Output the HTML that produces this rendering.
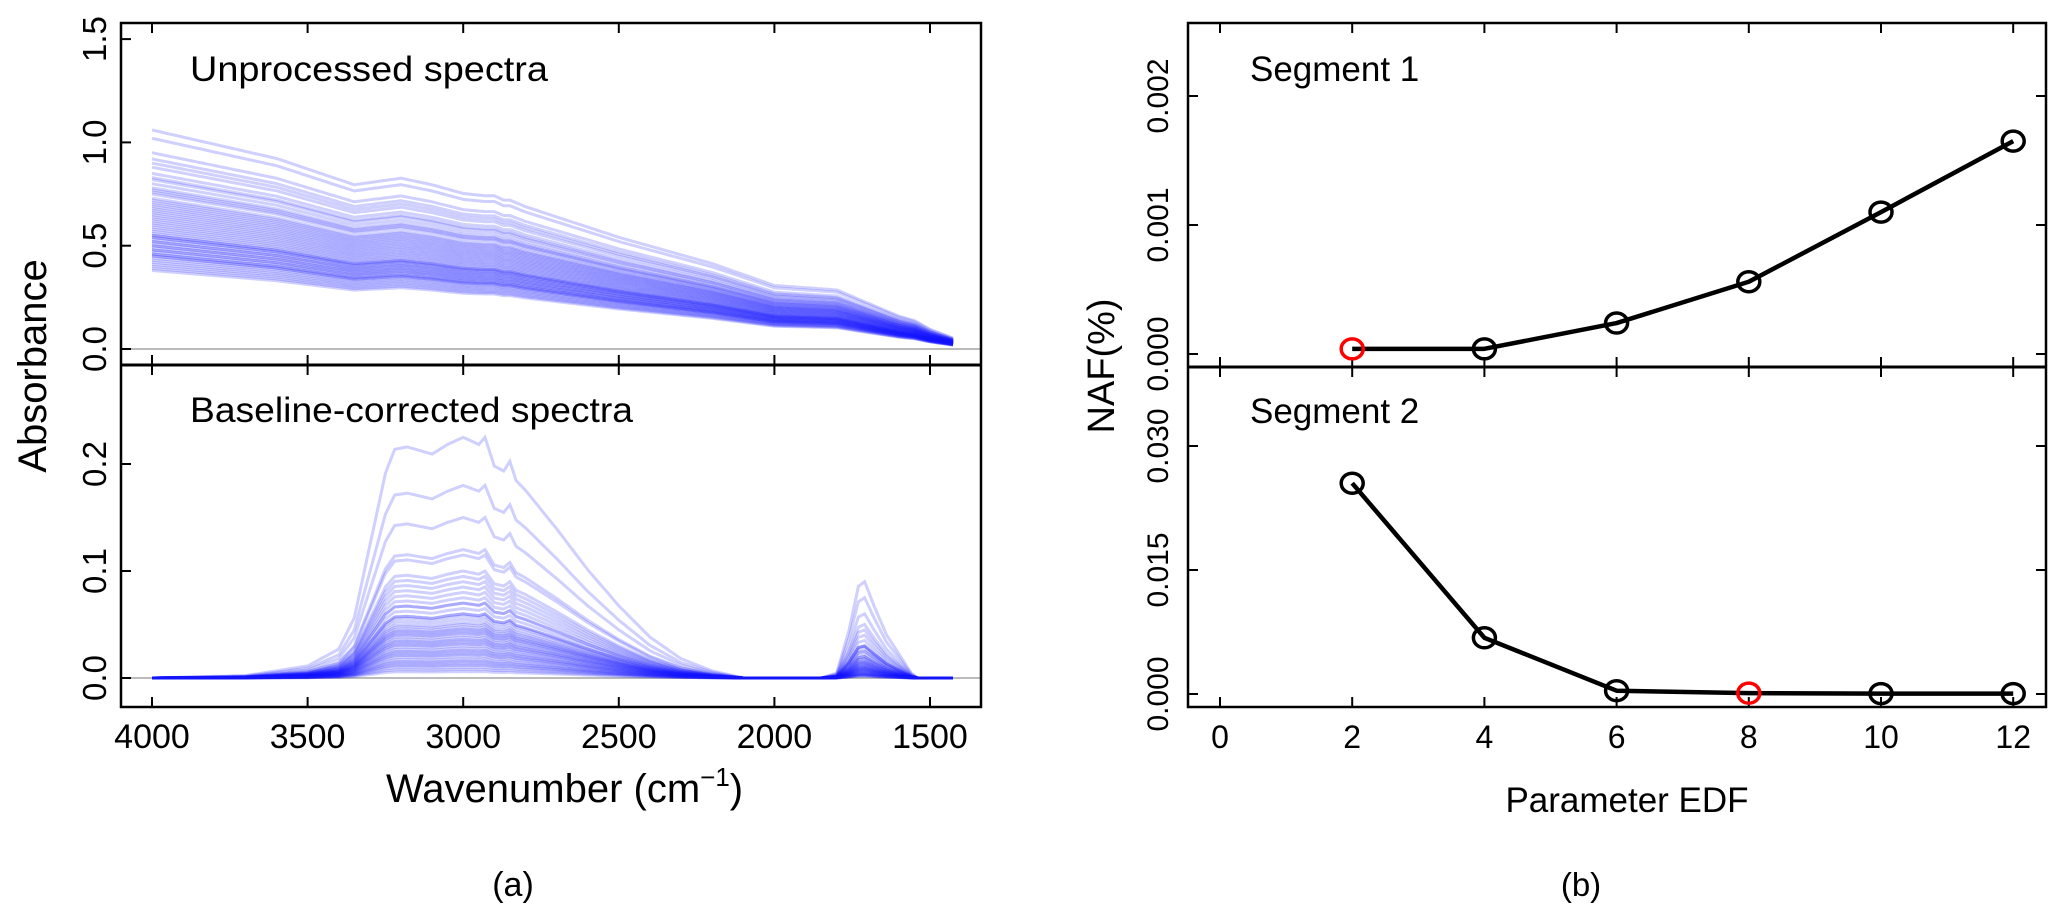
<!DOCTYPE html>
<html><head><meta charset="utf-8"><style>
html,body{margin:0;padding:0;background:#fff;}
svg{display:block;}
text{font-family:"Liberation Sans",Arial,sans-serif;fill:#000;}
.nar{font-family:"Liberation Sans Narrow","Liberation Sans",sans-serif;}
</style></head><body>
<svg id="fig" width="2062" height="920" viewBox="0 0 2062 920" xmlns="http://www.w3.org/2000/svg">
<g id="left"></g>
<g id="right"></g>
</svg>
<script>
// ---------- LEFT PANEL DATA ----------
const rawKnotsWn   = [4000,3600,3350,3250,3200,3100,3000,2930,2900,2870,2850,2800,2500,2200,2000,1800,1700,1600,1550,1500,1426];
const rawKnotsFrac = [1.00,0.87,0.75,0.77,0.78,0.75,0.71,0.70,0.70,0.68,0.68,0.65,0.51,0.39,0.29,0.27,0.21,0.15,0.13,0.09,0.05];
const rawStart = [1.06,1.02,0.95,0.92,0.90,0.88,0.85,0.83,0.82,0.80,0.78,0.77,0.76,0.75,0.73,0.72,0.71,0.70,0.69,0.68,0.67,0.66,0.65,0.64,0.63,0.62,0.61,0.60,0.59,0.58,0.57,0.56,0.55,0.55,0.54,0.54,0.53,0.52,0.52,0.51,0.50,0.50,0.49,0.48,0.48,0.47,0.46,0.46,0.45,0.45,0.44,0.43,0.42,0.41,0.40,0.39,0.38];
const corrKnotsWn = [4000,3700,3500,3400,3350,3300,3250,3220,3180,3100,3050,3000,2950,2930,2900,2870,2850,2830,2800,2700,2600,2500,2400,2300,2200,2100,1426];
const corrKnotsVal= [0,0.01,0.05,0.12,0.25,0.55,0.85,0.95,0.96,0.93,0.97,1.0,0.97,1.0,0.88,0.86,0.90,0.82,0.78,0.62,0.45,0.30,0.17,0.08,0.03,0,0];
const band2Wn  = [4000,1850,1800,1760,1730,1710,1680,1640,1600,1560,1540,1426];
const band2Val = [0,0,0.05,0.5,0.95,1.0,0.75,0.45,0.25,0.05,0,0];
const corrAmp  = [0.225,0.18,0.15,0.12,0.115,0.10,0.095,0.09,0.085,0.08,0.075,0.07,0.07,0.065,0.06,0.06,0.058,0.055,0.052,0.05,0.048,0.046,0.045,0.043,0.042,0.04,0.038,0.036,0.035,0.033,0.032,0.03,0.028,0.026,0.025,0.023,0.022,0.02,0.018,0.016,0.015,0.013,0.012,0.01,0.008,0.006];
const band2Amp = [0.03,0.09,0.075,0.06,0.05,0.045,0.04,0.035,0.03,0.03,0.028,0.025,0.025,0.022,0.02,0.02,0.018,0.018,0.016,0.015,0.015,0.014,0.013,0.012,0.012,0.011,0.01,0.01,0.009,0.009,0.008,0.008,0.007,0.007,0.006,0.006,0.005,0.005,0.004,0.004,0.003,0.003,0.003,0.002,0.002,0.002];
const wnTicks = [4000,3500,3000,2500,2000,1500];
const topTicks = [0.0,0.5,1.0,1.5];
const botTicks = [0.0,0.1,0.2];
// ---------- RIGHT PANEL DATA ----------
const edf = [2,4,6,8,10,12];
const seg1 = [0.00004,0.00004,0.00024,0.00056,0.00110,0.00165];
const seg2 = [0.0255,0.0068,0.0004,0.0001,0.00005,0.00005];
const seg1Best = 0, seg2Best = 3;
const edfTicks = [0,2,4,6,8,10,12];
const seg1Ticks = ["0.000","0.001","0.002"];
const seg2Ticks = ["0.000","0.015","0.030"];

const NS="http://www.w3.org/2000/svg";
function mk(parent,tag,attrs,txt){const e=document.createElementNS(NS,tag);for(const k in attrs)e.setAttribute(k,attrs[k]);if(txt!==undefined)e.textContent=txt;parent.appendChild(e);return e;}
function interp(wns,vals,w){for(let i=0;i<wns.length-1;i++){if(w<=wns[i]&&w>=wns[i+1]){const t=(wns[i]-w)/(wns[i]-wns[i+1]);return vals[i]+t*(vals[i+1]-vals[i]);}}return 0;}

const L=document.getElementById('left');
const xL=w=>152+(4000-w)*(155.6/500);
const yTop=v=>349-v*206.6;
const yBot=v=>678-v*1070;
const LB={x0:121,x1:981,t:23,m:365,b:707};
function sampleWn(){const a=[];for(let w=4000;w>=1426;w-=10)a.push(w);a.push(1426);return a;}
const wns=sampleWn();
let e;
e=mk(L,'line',{x1:LB.x0,x2:LB.x1,y1:yTop(0),y2:yTop(0),stroke:'#bbb','stroke-width':2});

e=mk(L,'line',{x1:LB.x0,x2:LB.x1,y1:yBot(0),y2:yBot(0),stroke:'#bbb','stroke-width':2});

const gRaw=mk(L,'g',{});

rawStart.forEach((s,i)=>{
  const pts=wns.map(w=>xL(w).toFixed(1)+','+yTop(s*interp(rawKnotsWn,rawKnotsFrac,w)).toFixed(1)).join(' ');
  const p=mk(gRaw,'polyline',{points:pts,fill:'none',stroke:'rgba(20,20,255,0.2)','stroke-width':3});
  
  
});
const gCor=mk(L,'g',{});

corrAmp.forEach((a,i)=>{
  const b2=band2Amp[i]||0;
  const pts=wns.map(w=>xL(w).toFixed(1)+','+yBot(a*interp(corrKnotsWn,corrKnotsVal,w)+b2*interp(band2Wn,band2Val,w)).toFixed(1)).join(' ');
  const p=mk(gCor,'polyline',{points:pts,fill:'none',stroke:'rgba(20,20,255,0.2)','stroke-width':3});
  
  
});
e=mk(L,'rect',{x:LB.x0,y:LB.t,width:LB.x1-LB.x0,height:LB.b-LB.t,fill:'none',stroke:'#000','stroke-width':2.5});

e=mk(L,'line',{x1:LB.x0,x2:LB.x1,y1:LB.m,y2:LB.m,stroke:'#000','stroke-width':3});

wnTicks.forEach(w=>{
  const x=xL(w);
  mk(L,'line',{x1:x,x2:x,y1:LB.t,y2:LB.t+10,stroke:'#000','stroke-width':2});
  mk(L,'line',{x1:x,x2:x,y1:LB.m-10,y2:LB.m+10,stroke:'#000','stroke-width':2});
  mk(L,'line',{x1:x,x2:x,y1:LB.b-10,y2:LB.b,stroke:'#000','stroke-width':2});
  const t=mk(L,'text',{x:x,y:748,'font-size':34,'text-anchor':'middle',class:'nar'},String(w));
  
});
topTicks.forEach(v=>{
  const y=yTop(v);
  mk(L,'line',{x1:LB.x0,x2:LB.x0+10,y1:y,y2:y,stroke:'#000','stroke-width':2});
  const t=mk(L,'text',{x:0,y:0,'font-size':33,'text-anchor':'middle',class:'nar',transform:`translate(106,${y}) rotate(-90)`},v.toFixed(1));
  
});
botTicks.forEach(v=>{
  const y=yBot(v);
  mk(L,'line',{x1:LB.x0,x2:LB.x0+10,y1:y,y2:y,stroke:'#000','stroke-width':2});
  const t=mk(L,'text',{x:0,y:0,'font-size':33,'text-anchor':'middle',class:'nar',transform:`translate(106,${y}) rotate(-90)`},v.toFixed(1));
  
});
</script>
<script>
(function(){
const L=document.getElementById('left');
function T(attrs,txt,name){const e=document.createElementNS("http://www.w3.org/2000/svg",'text');for(const k in attrs)e.setAttribute(k,attrs[k]);e.textContent=txt;L.appendChild(e);

return e;}
T({x:190,y:81,'font-size':35,class:'nar',textLength:358,lengthAdjust:'spacingAndGlyphs'},'Unprocessed  spectra','top-panel-title');
T({x:190,y:422,'font-size':35,class:'nar',textLength:443,lengthAdjust:'spacingAndGlyphs'},'Baseline-corrected spectra','bottom-panel-title');
T({x:0,y:0,'font-size':40,'text-anchor':'middle',transform:'translate(46,366) rotate(-90)'},'Absorbance','y-axis-title');
const w=T({x:386,y:802,'font-size':40,class:'nar'},'','x-axis-title');
w.innerHTML='Wavenumber (cm<tspan dy="-16" font-size="26">−1</tspan><tspan dy="16">)</tspan>';
T({x:513,y:896,'font-size':34,'text-anchor':'middle',class:'nar'},'(a)','panel-a-label');
})();
(function(){
const R=document.getElementById('right');
const NS="http://www.w3.org/2000/svg";
function mk(tag,attrs,txt){const e=document.createElementNS(NS,tag);for(const k in attrs)e.setAttribute(k,attrs[k]);if(txt!==undefined)e.textContent=txt;R.appendChild(e);return e;}
const RB={x0:1188,x1:2046,t:23,m:367,b:707};
const xR=v=>1220+v*66.1;
const y1=v=>354-v*129000;
const y2=v=>694-v*(124/0.015);
let e=mk('rect',{x:RB.x0,y:RB.t,width:RB.x1-RB.x0,height:RB.b-RB.t,fill:'none',stroke:'#000','stroke-width':2.5});

e=mk('line',{x1:RB.x0,x2:RB.x1,y1:RB.m,y2:RB.m,stroke:'#000','stroke-width':3});

edfTicks.forEach(v=>{
  const x=xR(v);
  mk('line',{x1:x,x2:x,y1:RB.t,y2:RB.t+10,stroke:'#000','stroke-width':2});
  mk('line',{x1:x,x2:x,y1:RB.m-10,y2:RB.m+10,stroke:'#000','stroke-width':2});
  mk('line',{x1:x,x2:x,y1:RB.b-10,y2:RB.b,stroke:'#000','stroke-width':2});
  const t=mk('text',{x:x,y:748,'font-size':32,'text-anchor':'middle'},String(v));
  
});
seg1Ticks.forEach(s=>{
  const y=y1(parseFloat(s));
  mk('line',{x1:RB.x0,x2:RB.x0+10,y1:y,y2:y,stroke:'#000','stroke-width':2});
  mk('line',{x1:RB.x1-10,x2:RB.x1,y1:y,y2:y,stroke:'#000','stroke-width':2});
  const t=mk('text',{x:0,y:0,'font-size':30,'text-anchor':'middle',transform:`translate(1168,${y}) rotate(-90)`},s);
  
});
seg2Ticks.forEach(s=>{
  const y=y2(parseFloat(s));
  mk('line',{x1:RB.x0,x2:RB.x0+10,y1:y,y2:y,stroke:'#000','stroke-width':2});
  mk('line',{x1:RB.x1-10,x2:RB.x1,y1:y,y2:y,stroke:'#000','stroke-width':2});
  const t=mk('text',{x:0,y:0,'font-size':30,'text-anchor':'middle',transform:`translate(1168,${y}) rotate(-90)`},s);
  
});
function series(vals,yf,best,name){
  const pts=edf.map((v,i)=>xR(v)+','+yf(vals[i])).join(' ');
  const l=mk('polyline',{points:pts,fill:'none',stroke:'#000','stroke-width':4.5,'stroke-linejoin':'round'});
  
  edf.forEach((v,i)=>{
    const c=mk('ellipse',{cx:xR(v),cy:yf(vals[i]),rx:11,ry:10,fill:'none',stroke:i===best?'#f00':'#000','stroke-width':3.5});
    
    
  });
}
series(seg1,y1,seg1Best,'segment1');
series(seg2,y2,seg2Best,'segment2');
e=mk('text',{x:1250,y:81,'font-size':35},'Segment 1');

e=mk('text',{x:1250,y:423,'font-size':35},'Segment 2');

e=mk('text',{x:0,y:0,'font-size':38,'text-anchor':'middle',transform:'translate(1114,366) rotate(-90)'},'NAF(%)');

e=mk('text',{x:1627,y:812,'font-size':35,'text-anchor':'middle'},'Parameter EDF');

e=mk('text',{x:1581,y:896,'font-size':33,'text-anchor':'middle'},'(b)');

})();
</script>
</body></html>
